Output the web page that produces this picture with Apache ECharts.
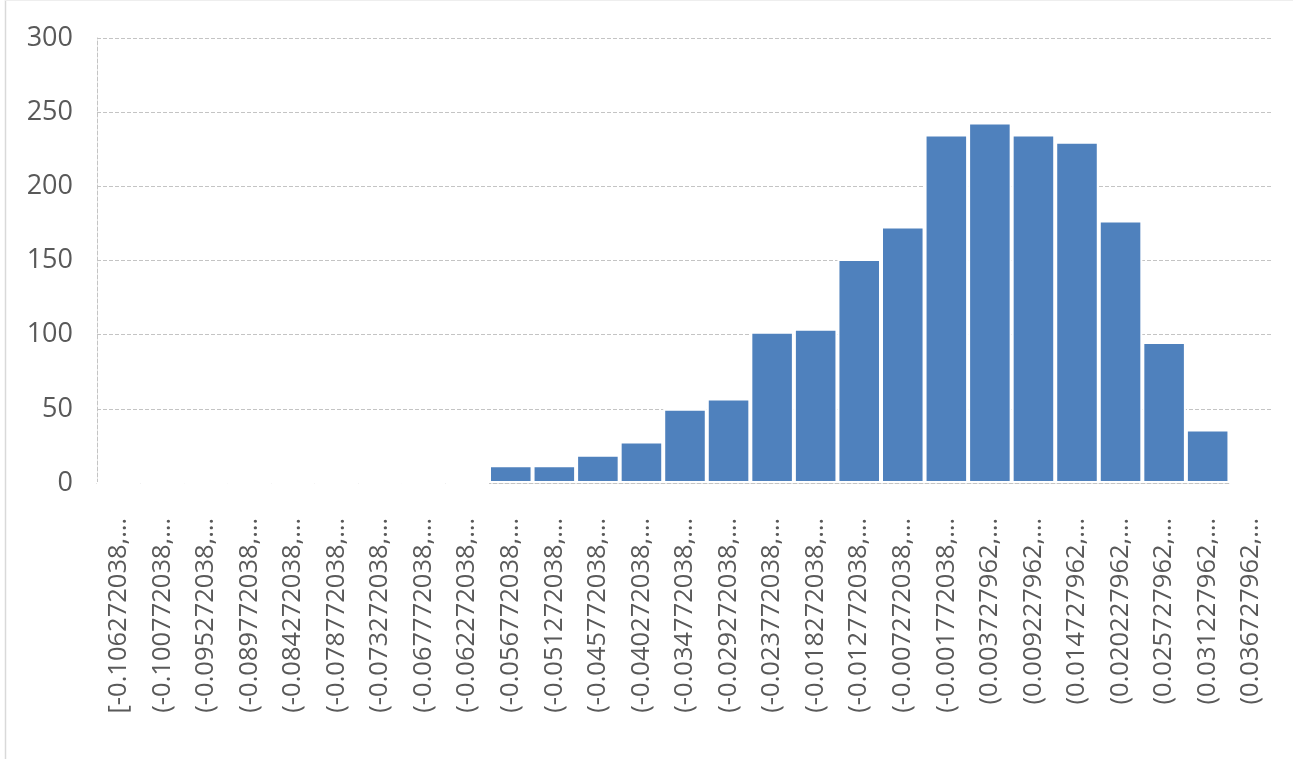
<!DOCTYPE html>
<html>
<head>
<meta charset="utf-8">
<script src="https://cdn.jsdelivr.net/npm/echarts@6/dist/echarts.min.js"></script>
<style>
html,body{margin:0;padding:0;background:#fff;}
#chart{width:1293px;height:759px;}
</style>
</head>
<body>
<div id="chart"></div>
<script>
const categories = [
  "[-0.106272038,…", "(-0.100772038,…", "(-0.095272038,…", "(-0.089772038,…",
  "(-0.084272038,…", "(-0.078772038,…", "(-0.073272038,…", "(-0.067772038,…",
  "(-0.062272038,…", "(-0.056772038,…", "(-0.051272038,…", "(-0.045772038,…",
  "(-0.040272038,…", "(-0.034772038,…", "(-0.029272038,…", "(-0.023772038,…",
  "(-0.018272038,…", "(-0.012772038,…", "(-0.007272038,…", "(-0.001772038,…",
  "(0.003727962,…", "(0.009227962,…", "(0.014727962,…", "(0.020227962,…",
  "(0.025727962,…", "(0.031227962,…", "(0.036727962,…"
];
const counts = [
  0, 0, 0, 0, 0, 0, 0, 0, 0,
  12, 12, 19, 28, 50, 57, 102, 104, 151, 173, 235, 243, 235, 230, 177, 95, 36,
  0
];
const yTicks = { min: 0, max: 300, interval: 50 };

const chart = echarts.init(document.getElementById('chart'), null, { renderer: 'canvas' });
const fontFamily = '"Open Sans", "Noto Sans", "Liberation Sans", sans-serif';
chart.setOption({
  animation: false,
  backgroundColor: '#ffffff',
  graphic: [
    { type: 'line', shape: { x1: 5.5, y1: 0, x2: 5.5, y2: 759 }, style: { stroke: '#d9d9d9', lineWidth: 1.5 } },
    { type: 'line', shape: { x1: 5, y1: 0.5, x2: 1293, y2: 0.5 }, style: { stroke: '#eeeeee', lineWidth: 1 } }
  ],
  grid: { left: 97, right: 20, top: 38, bottom: 276, containLabel: false },
  xAxis: {
    type: 'category',
    data: categories,
    axisLine: { show: true, lineStyle: { color: '#c4c4c4', type: 'dashed', width: 1 } },
    axisTick: { show: false },
    axisLabel: {
      interval: 0, rotate: 90, margin: 35,
      color: '#595959', fontSize: 25.5, fontFamily: fontFamily
    }
  },
  yAxis: {
    type: 'value',
    min: yTicks.min, max: yTicks.max, interval: yTicks.interval,
    axisLine: { show: true, lineStyle: { color: '#c4c4c4', type: 'dashed', width: 1 } },
    axisTick: { show: false },
    axisLabel: { color: '#595959', fontSize: 27, margin: 24, fontFamily: fontFamily },
    splitLine: { show: true, lineStyle: { color: '#c4c4c4', type: 'dashed', width: 1 } }
  },
  series: [{
    type: 'bar',
    data: counts,
    barCategoryGap: '0%',
    itemStyle: { color: '#4f81bd', borderColor: '#ffffff', borderWidth: 2 }
  }]
});
</script>
</body>
</html>
